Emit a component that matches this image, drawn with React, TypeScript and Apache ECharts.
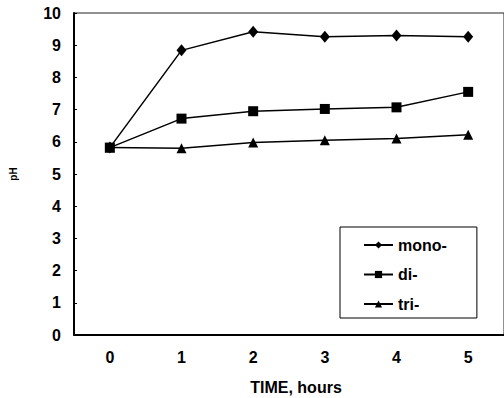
import React, { useEffect, useRef } from "react";
import * as echarts from "echarts";

const categories = ["0", "1", "2", "3", "4", "5"];
const mono = [5.82, 8.84, 9.42, 9.26, 9.3, 9.26];
const di = [5.82, 6.72, 6.95, 7.02, 7.07, 7.55];
const tri = [5.82, 5.8, 5.98, 6.05, 6.1, 6.22];
const seriesNames = ["mono-", "di-", "tri-"];

const FONT = "'Liberation Sans', Arial, sans-serif";

export default function App() {
  const ref = useRef<HTMLDivElement>(null);
  useEffect(() => {
    document.body.style.margin = "0";
    const chart = echarts.init(ref.current!, null, { renderer: "svg" });
    const lineStyle = { color: "#000", width: 1.5 };
    chart.setOption({
      animation: false,
      backgroundColor: "#fff",
      grid: {
        left: 67,
        top: 13,
        right: -3,
        bottom: 63,
        show: true,
        borderColor: "#222",
        borderWidth: 1,
      },
      legend: {
        orient: "vertical",
        left: 340,
        top: 227,
        padding: [10, 30, 6, 23],
        itemGap: 13.5,
        itemWidth: 29,
        itemHeight: 9,
        borderColor: "#000",
        borderWidth: 1,
        backgroundColor: "#fff",
        data: seriesNames,
        textStyle: {
          fontFamily: FONT,
          fontWeight: "bold",
          fontSize: 16,
          lineHeight: 12,
          color: "#000",
        },
      },
      xAxis: {
        type: "category",
        data: categories,
        boundaryGap: true,
        axisLine: { lineStyle: { color: "#000", width: 2 } },
        axisTick: { inside: true, length: 3, lineStyle: { color: "#000" } },
        axisLabel: { margin: 14, fontFamily: FONT, fontWeight: "bold", fontSize: 16, color: "#000" },
        splitLine: { show: false },
      },
      yAxis: {
        type: "value",
        min: 0,
        max: 10,
        interval: 1,
        name: "pH",
        nameLocation: "middle",
        nameRotate: 90,
        nameGap: 56,
        nameTextStyle: { fontFamily: FONT, fontWeight: "bold", fontSize: 10, color: "#000" },
        axisLine: { show: true, lineStyle: { color: "#000", width: 2 } },
        axisTick: { show: true, inside: true, length: 3, lineStyle: { color: "#000" } },
        axisLabel: { margin: 13, fontFamily: FONT, fontWeight: "bold", fontSize: 16, color: "#000" },
        splitLine: { show: false },
      },
      graphic: [
        {
          type: "text",
          x: 296,
          y: 387,
          style: {
            text: "TIME, hours",
            fontFamily: FONT,
            fontWeight: "bold",
            fontSize: 16,
            fill: "#000",
            textAlign: "center",
            textVerticalAlign: "middle",
          },
        },
      ],
      series: [
        {
          name: seriesNames[0],
          type: "line",
          data: mono,
          symbol: "diamond",
          symbolSize: [10, 12],
          lineStyle,
          itemStyle: { color: "#000" },
        },
        {
          name: seriesNames[1],
          type: "line",
          data: di,
          symbol: "rect",
          symbolSize: 10,
          lineStyle,
          itemStyle: { color: "#000" },
        },
        {
          name: seriesNames[2],
          type: "line",
          data: tri,
          symbol: "triangle",
          symbolSize: [10, 10],
          lineStyle,
          itemStyle: { color: "#000" },
        },
      ],
    });
    return () => chart.dispose();
  }, []);
  return (
    <div
      ref={ref}
      style={{ position: "fixed", left: 0, top: 0, width: 504, height: 398 }}
    />
  );
}
